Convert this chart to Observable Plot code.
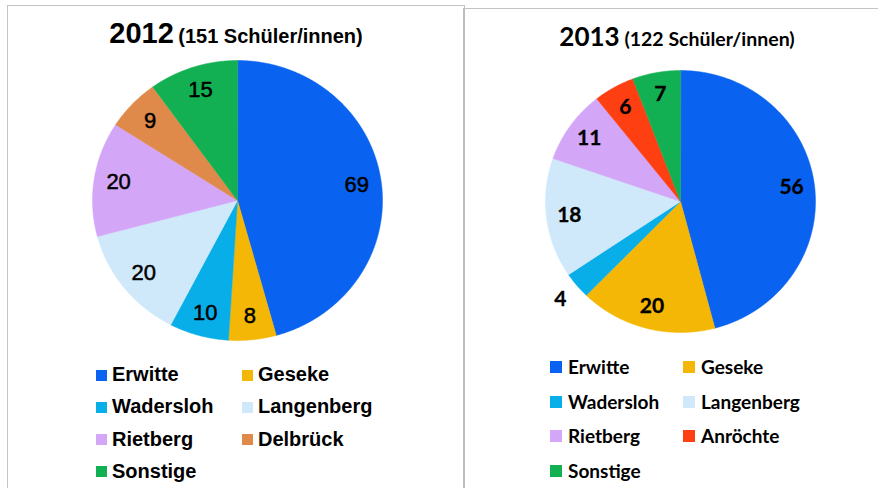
<!DOCTYPE html>
<html>
<head>
<meta charset="utf-8">
<script src="https://cdn.jsdelivr.net/npm/d3@7"></script>
<script src="https://cdn.jsdelivr.net/npm/@observablehq/plot@0.6"></script>
<style>
  html, body { margin: 0; padding: 0; background: #fff; }
  #page { position: relative; width: 878px; height: 488px; overflow: hidden; background: #fff; }
  .panel { position: absolute; box-sizing: border-box; }
  #p1 { left: 7px; top: 5px; width: 458px; height: 500px; border: 1.5px solid #c4c4c4; border-bottom: none; }
  #p2 { left: 463px; top: 8px; width: 430px; height: 500px; border-top: 1.5px solid #c4c4c4; border-left: 2px solid #bdbdbd; }
  .chart { position: absolute; left: 0; top: 0; }
  .title { position: absolute; white-space: nowrap; color: #000; }
  .item { position: absolute; white-space: nowrap; color: #000; font-weight: bold; }
  .sw { position: absolute; }
</style>
</head>
<body>
<div id="page">
  <div class="panel" id="p1"></div>
  <div class="panel" id="p2"></div>
</div>
<script>
// ---- data ----
const cities2012 = ["Erwitte", "Geseke", "Wadersloh", "Langenberg", "Rietberg", "Delbrück", "Sonstige"];
const values2012 = [69, 8, 10, 20, 20, 9, 15];
const cities2013 = ["Erwitte", "Geseke", "Wadersloh", "Langenberg", "Rietberg", "Anröchte", "Sonstige"];
const values2013 = [56, 20, 4, 18, 11, 6, 7];
const year2012 = "2012", sub2012 = "(151 Schüler/innen)";
const year2013 = "2013", sub2013 = "(122 Schüler/innen)";

// palette
const palette = {
  "Erwitte": "#0a62f0",
  "Geseke": "#f4b705",
  "Wadersloh": "#08aee8",
  "Langenberg": "#cfe9fa",
  "Rietberg": "#d3a6f7",
  "Delbrück": "#df8a4a",
  "Anröchte": "#fd3f12",
  "Sonstige": "#13b053"
};

function wedges(names, values) {
  const total = d3.sum(values);
  const rows = [];
  let acc = 0;
  names.forEach((n, i) => {
    const a0 = acc / total * 2 * Math.PI;
    acc += values[i];
    const a1 = acc / total * 2 * Math.PI;
    rows.push({name: n, x: 0, y: 0});
    const steps = Math.max(2, Math.ceil((a1 - a0) / 0.005));
    for (let k = 0; k <= steps; k++) {
      const a = a0 + (a1 - a0) * k / steps;
      rows.push({name: n, x: Math.sin(a), y: Math.cos(a)});
    }
  });
  return rows;
}
function labels(names, values, rIn, rOut, small) {
  const total = d3.sum(values);
  let acc = 0;
  return names.map((n, i) => {
    const a = (acc + values[i] / 2) / total * 2 * Math.PI;
    acc += values[i];
    const r = values[i] < small ? rOut : rIn;
    return {name: n, v: values[i], x: Math.sin(a) * r, y: Math.cos(a) * r};
  });
}

function pie({names, values, cx, cy, rx, ry, w, h, font, size, weight, halo, small}) {
  return Plot.plot({
    width: w, height: h,
    margin: 0,
    x: {domain: [-1, 1], range: [cx - rx, cx + rx], axis: null},
    y: {domain: [-1, 1], range: [cy + ry, cy - ry], axis: null},
    color: {domain: Object.keys(palette), range: Object.values(palette)},
    style: {background: "transparent", overflow: "visible"},
    marks: [
      Plot.line(wedges(names, values), {x: "x", y: "y", z: "name", fill: "name", stroke: "name", strokeWidth: 0.5, curve: "linear-closed"}),
      Plot.text(labels(names, values, 0.83, 1.16, small), {x: "x", y: "y", text: "v", fill: "#000",
        stroke: "#000", strokeWidth: halo,
        fontSize: size, fontFamily: font, fontWeight: weight})
    ]
  });
}

function legend(parent, names, opts) {
  names.forEach((n, i) => {
    const col = i % 2, row = Math.floor(i / 2);
    const sw = document.createElement("div");
    sw.className = "sw";
    sw.style.left = (opts.x0 + col * opts.dx) + "px";
    sw.style.top = (opts.y0 + row * opts.dy - opts.sq / 2) + "px";
    sw.style.width = opts.sq + "px";
    sw.style.height = opts.sq + "px";
    sw.style.background = palette[n];
    parent.appendChild(sw);
    const t = document.createElement("div");
    t.className = "item";
    t.textContent = n;
    t.style.left = (opts.x0 + col * opts.dx + opts.tx) + "px";
    t.style.top = (opts.y0 + row * opts.dy) + "px";
    t.style.transform = "translateY(-52%)";
    t.style.fontFamily = opts.font;
    t.style.fontSize = opts.size + "px";
    t.style.letterSpacing = opts.ls + "px";
    parent.appendChild(t);
  });
}

const page = document.getElementById("page");

// chart 1
const c1 = pie({names: cities2012, values: values2012, cx: 237, cy: 200, rx: 145, ry: 140, w: 465, h: 488,
  font: "Liberation Sans, Arial, sans-serif", size: 22, weight: 400, halo: 0.5, small: 0});
c1.classList.add("chart");
page.appendChild(c1);

// chart 2
const c2 = pie({names: cities2013, values: values2013, cx: 680 - 463, cy: 201, rx: 135, ry: 131, w: 415, h: 488,
  font: "Lato, Open Sans, sans-serif", size: 21, weight: 700, halo: 0.3, small: 5});
c2.classList.add("chart");
c2.style.left = "463px";
page.appendChild(c2);

// titles
const t1 = document.createElement("div");
t1.className = "title";
t1.style.left = "236px"; t1.style.top = "17px"; t1.style.transform = "translateX(-50%)";
t1.style.fontFamily = "Liberation Sans, Arial, sans-serif"; t1.style.fontWeight = "bold";
t1.innerHTML = `<span style="font-size:29px">${year2012}</span> <span style="font-size:20px">${sub2012}</span>`;
page.appendChild(t1);

const t2 = document.createElement("div");
t2.className = "title";
t2.style.left = "677px"; t2.style.top = "20px"; t2.style.transform = "translateX(-50%)";
t2.style.fontFamily = "Lato, Open Sans, sans-serif"; t2.style.fontWeight = "bold";
t2.innerHTML = `<span style="font-size:26px">${year2013}</span><span style="font-size:19.5px"> ${sub2013}</span>`;
page.appendChild(t2);

legend(page, cities2012, {x0: 96, dx: 146, y0: 375, dy: 32.3, sq: 11, tx: 16, font: "Liberation Sans, Arial, sans-serif", size: 20, ls: 0});
legend(page, cities2013, {x0: 550, dx: 133, y0: 367, dy: 34.5, sq: 12, tx: 18, font: "Lato, Open Sans, sans-serif", size: 19, ls: 0});
</script>
</body>
</html>
